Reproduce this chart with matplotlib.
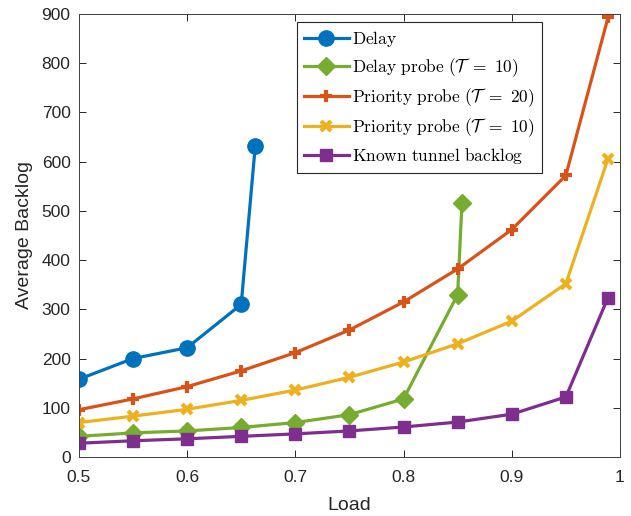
import matplotlib
matplotlib.use('Agg')
import matplotlib.pyplot as plt

plt.rcParams['font.family'] = ['Liberation Sans', 'DejaVu Sans']
plt.rcParams['mathtext.fontset'] = 'cm'

load_delay = [0.5, 0.55, 0.6, 0.65, 0.663]
backlog_delay = [158, 200, 222, 310, 632]

load_dprobe = [0.5, 0.55, 0.6, 0.65, 0.7, 0.75, 0.8, 0.85, 0.854]
backlog_dprobe = [42, 49, 53, 60, 70, 86, 118, 330, 515]

load_full = [0.5, 0.55, 0.6, 0.65, 0.7, 0.75, 0.8, 0.85, 0.9, 0.95, 0.989]
backlog_prio20 = [96, 118, 143, 175, 212, 258, 315, 382, 462, 572, 893]
backlog_prio10 = [70, 83, 97, 115, 136, 162, 193, 230, 276, 352, 606]
backlog_known = [28, 33, 37, 42, 47, 53, 61, 71, 87, 122, 324]

labels = [r'$\mathrm{Delay}$',
          r'$\mathrm{Delay\ probe}\ (\mathcal{T}\ =\ 10)$',
          r'$\mathrm{Priority\ probe}\ (\mathcal{T}\ =\ 20)$',
          r'$\mathrm{Priority\ probe}\ (\mathcal{T}\ =\ 10)$',
          r'$\mathrm{Known\ tunnel\ backlog}$']

fig = plt.figure(figsize=(6.31, 5.16), dpi=100)
ax = fig.add_axes([0.125, 0.1143, 0.8575, 0.8587])

lw = 2.3
ax.plot(load_delay, backlog_delay, color='#0072BD', marker='o', ms=11, lw=lw, label=labels[0])
ax.plot(load_dprobe, backlog_dprobe, color='#77AC30', marker='D', ms=9, lw=lw, label=labels[1])
ax.plot(load_full, backlog_prio20, color='#D95319', marker='+', ms=9, mew=3, lw=lw, label=labels[2])
ax.plot(load_full, backlog_prio10, color='#EDB120', marker='x', ms=7, mew=3, lw=lw, label=labels[3])
ax.plot(load_full, backlog_known, color='#7E2F8E', marker='s', ms=9, lw=lw, label=labels[4])

ax.set_xlim(0.5, 1.0)
ax.set_ylim(0, 900)
ax.set_xticks([0.5, 0.6, 0.7, 0.8, 0.9, 1.0])
ax.set_xticklabels(['0.5', '0.6', '0.7', '0.8', '0.9', '1'])
ax.set_yticks(range(0, 901, 100))
ax.tick_params(direction='in', top=True, right=True, labelsize=12.5, colors='#262626',
               length=5, width=0.7)
ax.tick_params(axis='x', pad=9)
ax.tick_params(axis='y', pad=6)
for s in ax.spines.values():
    s.set_color('#404040')
    s.set_linewidth(0.7)

ax.set_xlabel('Load', fontsize=14, color='#262626', labelpad=9)
ax.set_ylabel('Average Backlog', fontsize=14, color='#262626', labelpad=6)

leg = ax.legend(loc='upper left', bbox_to_anchor=(0.403, 0.982), borderaxespad=0,
                fontsize=12.5, frameon=True, fancybox=False, edgecolor='#262626',
                framealpha=1, handlelength=2.6, borderpad=0.4, labelspacing=0.42,
                handletextpad=0.2)
leg.get_frame().set_linewidth(0.8)

fig.savefig('out.png', dpi=100)
